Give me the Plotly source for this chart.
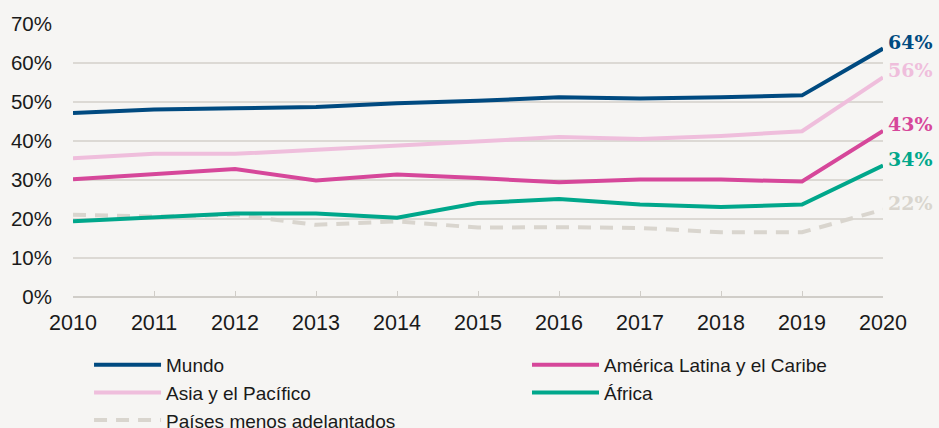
import plotly.graph_objects as go

# ---------------------------------------------------------------------------
# Data
# ---------------------------------------------------------------------------
years = [2010, 2011, 2012, 2013, 2014, 2015, 2016, 2017, 2018, 2019, 2020]

mundo = [47.2, 48.1, 48.4, 48.7, 49.7, 50.3, 51.2, 50.9, 51.2, 51.7, 63.7]
asia_pacifico = [35.6, 36.7, 36.7, 37.8, 39.0, 40.0, 41.0, 40.5, 41.3, 42.5, 56.3]
america_latina = [30.2, 31.6, 32.8, 29.9, 31.4, 30.5, 29.4, 30.1, 30.1, 29.6, 42.6]
africa = [19.4, 20.4, 21.4, 21.4, 20.3, 24.1, 25.1, 23.7, 23.1, 23.7, 33.7]
menos_adelantados = [21.1, 20.6, 21.1, 18.5, 19.4, 17.8, 17.9, 17.7, 16.6, 16.6, 22.4]

end_labels = ["64%", "56%", "43%", "34%", "22%"]

# ---------------------------------------------------------------------------
# Style
# ---------------------------------------------------------------------------
BG = "#f6f5f3"
GRID = "#dcd9d4"
TEXT = "#1a1a1a"
FONT = "Liberation Sans"

C_MUNDO = "#004a80"
C_ALC = "#d6479a"
C_ASIA = "#efbedc"
C_AFRICA = "#00a78b"
C_LDC = "#d9d5ce"

# (name, values, colour, dash, legend column)
series = [
    ("Mundo", mundo, C_MUNDO, "solid", "legend"),
    ("Asia y el Pacífico", asia_pacifico, C_ASIA, "solid", "legend"),
    ("Países menos adelantados", menos_adelantados, C_LDC, "13px,9px", "legend"),
    ("América Latina y el Caribe", america_latina, C_ALC, "solid", "legend2"),
    ("África", africa, C_AFRICA, "solid", "legend2"),
]

fig = go.Figure()

# draw back-to-front so Mundo sits on top
draw_order = [2, 4, 3, 1, 0]
for i in draw_order:
    name, vals, color, dash, leg = series[i]
    fig.add_trace(go.Scatter(
        x=years, y=vals,
        mode="lines",
        name=name,
        line=dict(color=color, width=4, dash=dash),
        legend=leg,
        legendrank=i + 1,
        hoverinfo="skip",
    ))

# end-of-line value labels
label_series = [
    (mundo, C_MUNDO),
    (asia_pacifico, C_ASIA),
    (america_latina, C_ALC),
    (africa, C_AFRICA),
    (menos_adelantados, C_LDC),
]
for (vals, color), txt in zip(label_series, end_labels):
    fig.add_annotation(
        x=years[-1], y=vals[-1],
        text=f"<b>{txt}</b>",
        showarrow=False,
        xanchor="left",
        xshift=3, yshift=7,
        font=dict(family="DejaVu Serif", size=19, color=color),
    )

legend_style = dict(
    orientation="v",
    yanchor="top",
    y=-0.179,
    traceorder="normal",
    font=dict(family=FONT, size=19, color=TEXT),
    bgcolor="rgba(0,0,0,0)",
    tracegroupgap=0,
    itemwidth=67,
    xanchor="left",
)

fig.update_layout(
    width=939, height=428,
    paper_bgcolor=BG,
    plot_bgcolor=BG,
    # legend runs past the bottom edge like the original; keep plot area fixed
    margin=dict(l=73, r=56, t=24, b=131, autoexpand=False),
    font=dict(family=FONT, size=20, color=TEXT),
    showlegend=True,
    legend=dict(x=0.0198, **legend_style),
    legend2=dict(x=0.5605, **legend_style),
    xaxis=dict(
        range=[2010, 2020],
        tickmode="array",
        tickvals=years,
        ticktext=[str(y) for y in years],
        tickfont=dict(size=21.5),
        showgrid=False,
        zeroline=False,
        showline=False,
        ticks="inside",
        ticklen=6,
        tickcolor="#d0cdc8",
        ticklabelstandoff=10,
        fixedrange=True,
    ),
    yaxis=dict(
        range=[0, 70],
        dtick=10,
        ticksuffix="%",
        tickfont=dict(size=20.5),
        showgrid=True,
        gridcolor=GRID,
        gridwidth=1.5,
        zeroline=True,
        zerolinecolor="#d0cdc8",
        zerolinewidth=1.5,
        showline=False,
        ticks="",
        ticklabelstandoff=20,
        fixedrange=True,
    ),
)

# page body margin off so the figure sits flush in the window
fig.write_html(
    "out.html",
    config={"displayModeBar": False},
    post_script="document.body.style.margin='0';",
)
